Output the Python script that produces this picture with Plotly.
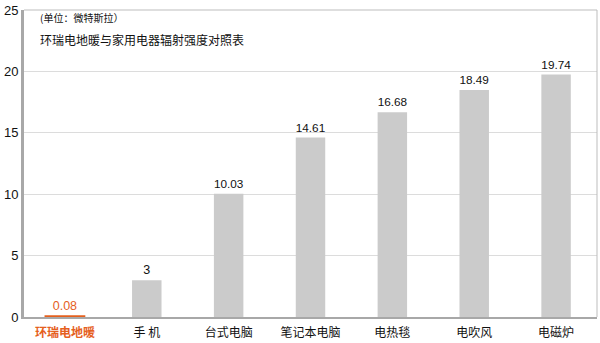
import plotly.graph_objects as go

categories = ["环瑞电地暖", "手 机", "台式电脑", "笔记本电脑", "电热毯", "电吹风", "电磁炉"]
values = [0.08, 3, 10.03, 14.61, 16.68, 18.49, 19.74]
value_labels = ["0.08", "3", "10.03", "14.61", "16.68", "18.49", "19.74"]
y_ticks = [0, 5, 10, 15, 20, 25]

ORANGE = "#E5601E"
GREY = "#CBCBCB"
FONT = "Arial, 'Liberation Sans', 'Noto Sans CJK SC', sans-serif"

bar_colors = [ORANGE] + [GREY] * (len(values) - 1)
text_colors = [ORANGE] + ["#111111"] * (len(values) - 1)
outline_widths = [1.5] + [0] * (len(values) - 1)
widths = [0.48] + [0.36] * (len(values) - 1)

fig = go.Figure(go.Bar(
    x=categories,
    y=values,
    marker=dict(color=bar_colors, line=dict(width=outline_widths, color=bar_colors)),
    width=widths,
    text=value_labels,
    textposition="outside",
    cliponaxis=False,
    textfont=dict(family=FONT, size=12.5, color=text_colors),
    hoverinfo="skip",
))

tick_text = [f"<span style='color:{ORANGE}'><b>{categories[0]}</b></span>"] + categories[1:]

fig.update_layout(
    width=600, height=343,
    margin=dict(l=24, r=3, t=7, b=25),
    paper_bgcolor="white", plot_bgcolor="white",
    showlegend=False,
    font=dict(family=FONT, size=12, color="#111111"),
    xaxis=dict(
        tickmode="array", tickvals=categories, ticktext=tick_text,
        tickfont=dict(family="'Noto Sans CJK SC', sans-serif", size=12, color="#111111"),
        showline=True, linecolor="#A8A8A8", linewidth=2,
        showgrid=False, ticks="", ticklen=0, ticklabelstandoff=4,
    ),
    yaxis=dict(
        range=[0, 25], tickvals=y_ticks,
        tickfont=dict(family=FONT, size=13, color="#111111"),
        ticklabeloverflow="allow",
        showline=True, linecolor="#A8A8A8", linewidth=3,
        gridcolor="#DCDCDC", gridwidth=1,
        ticks="", ticklen=0, zeroline=False,
    ),
    bargap=0.5,
)

# thin frame along the top and right edges of the plot area
fig.add_shape(type="line", xref="paper", yref="paper", x0=0, x1=1, y0=1, y1=1,
              line=dict(color="#BDBDBD", width=1))
fig.add_shape(type="line", xref="paper", yref="paper", x0=1, x1=1, y0=0, y1=1,
              line=dict(color="#BDBDBD", width=1))

fig.add_annotation(xref="paper", yref="paper", x=0.024, y=0.975, xanchor="left", yanchor="middle",
                   text="(单位：微特斯拉）", showarrow=False,
                   font=dict(family="'Noto Sans CJK SC', sans-serif", size=10, color="#111111"))
fig.add_annotation(xref="paper", yref="paper", x=0.024, y=0.905, xanchor="left", yanchor="middle",
                   text="环瑞电地暖与家用电器辐射强度对照表", showarrow=False,
                   font=dict(family="'Noto Sans CJK SC', sans-serif", size=12, color="#111111"))

fig.write_html("out.html")
